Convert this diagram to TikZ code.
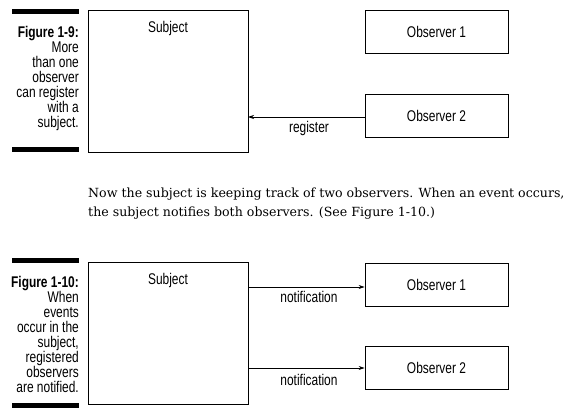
\documentclass[tikz,border=0pt]{standalone}
\usepackage{fontspec}
\setmainfont{DejaVu Serif}
\newfontfamily\condfont[FakeStretch=0.77]{Liberation Sans}
\usetikzlibrary{arrows.meta}
\begin{document}
\begin{tikzpicture}[x=1pt,y=-1pt,
  box/.style={draw,line width=0.8pt,inner sep=0pt},
  lbl/.style={font=\condfont\fontsize{15.5}{15}\selectfont,inner sep=0pt},
  captxt/.style={font=\condfont\fontsize{15.5}{15}\selectfont,inner sep=0pt,anchor=north east,align=right},
  bar/.style={fill=black},
  arr/.style={line width=0.7pt,-{Stealth[length=6pt,width=4pt]}},
  para/.style={font=\fontsize{12.6}{14}\selectfont,inner sep=0pt,anchor=base west}]
\useasboundingbox (0,0) rectangle (574,415);
% Figure 1-9
\fill[bar] (12,9) rectangle (79,14);
\fill[bar] (12,147) rectangle (79,152);
\node[captxt] (c1) at (79,26.5) {\bfseries Figure 1-9:\\More\\than one\\observer\\can register\\with a\\subject.};
\draw[box] (88,10) rectangle (248,152);
\node[lbl] (s1) at (168,28) {Subject};
\node[box,minimum width=143pt,minimum height=43pt] (o1) at (436.5,31.5) {};
\node[lbl] at (o1) {Observer 1};
\node[box,minimum width=143pt,minimum height=43pt] (o2) at (436.5,115.5) {};
\node[lbl] at (o2) {Observer 2};
\coordinate (r1) at (248,117);
\draw[arr] (o2.west |- r1) -- (r1);
\node[lbl] (rl) at (309,128) {register};
% paragraph
\node[para] (p1) at (88,197) {Now the subject is keeping track of two observers. When an event occurs,};
\node[para] (p2) at (88,216) {the subject notifies both observers. (See Figure 1-10.)};
% Figure 1-10
\fill[bar] (12,258) rectangle (79,263);
\fill[bar] (12,403) rectangle (79,408);
\node[captxt] (c2) at (79,276.5) {\bfseries Figure 1-10:\\When\\events\\occur in the\\subject,\\registered\\observers\\are notified.};
\draw[box] (88,262) rectangle (248,404);
\node[lbl] (s2) at (168,280) {Subject};
\node[box,minimum width=143pt,minimum height=43pt] (p1o) at (436.5,284.5) {};
\node[lbl] at (p1o) {Observer 1};
\node[box,minimum width=143pt,minimum height=43pt] (p2o) at (436.5,367.5) {};
\node[lbl] at (p2o) {Observer 2};
\coordinate (n1) at (248,287);
\coordinate (n2) at (248,368);
\draw[arr] (n1) -- (n1 -| p1o.west);
\draw[arr] (n2) -- (n2 -| p2o.west);
\node[lbl] (nl1) at (309,297) {notification};
\node[lbl] (nl2) at (309,380) {notification};
\end{tikzpicture}
\end{document}
